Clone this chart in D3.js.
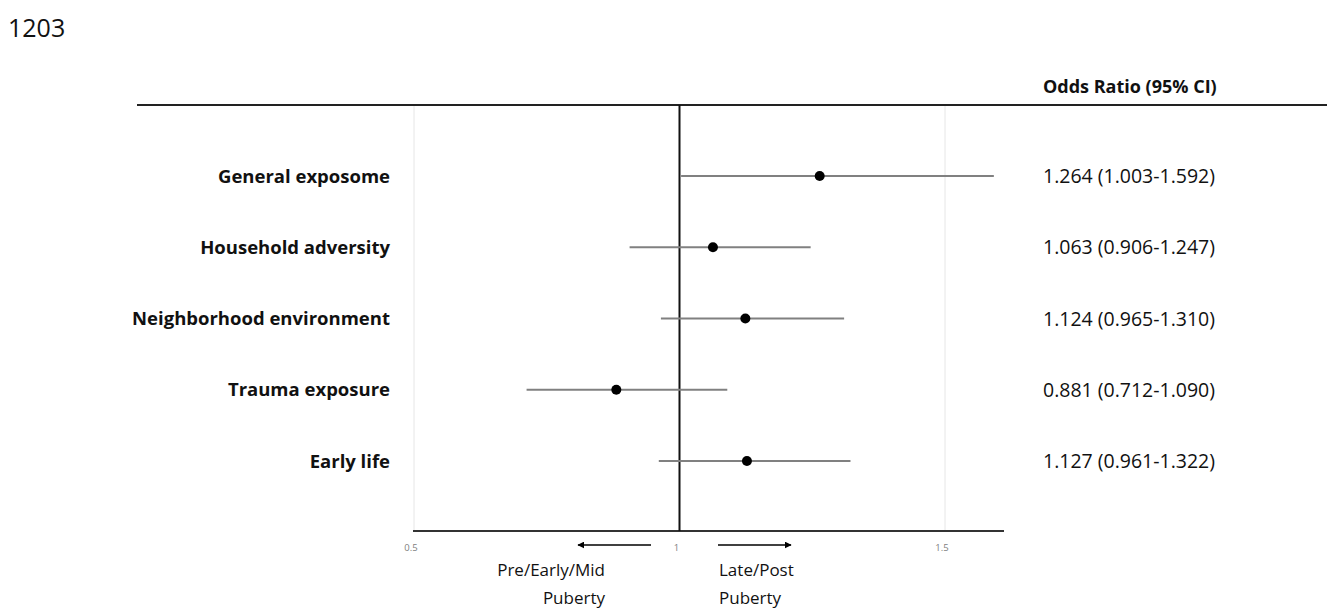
<!DOCTYPE html>
<html><head><meta charset="utf-8">
<script src="https://cdn.jsdelivr.net/npm/d3@7"></script>
<style>body{margin:0;background:#fff}svg{display:block}</style>
</head><body>
<svg id="c" width="1327" height="608"></svg>
<script>
const categories = ["General exposome","Household adversity","Neighborhood environment","Trauma exposure","Early life"];
const oddsRatio = [1.264,1.063,1.124,0.881,1.127];
const ciLow = [1.003,0.906,0.965,0.712,0.961];
const ciHigh = [1.592,1.247,1.310,1.090,1.322];
const tickValues = [0.5,1,1.5];
const tickLabels = ["0.5","1","1.5"];

const svg = d3.select("#c");
const font = "'Open Sans', 'Noto Sans', sans-serif";
const x = d3.scaleLinear().domain([0.5,1.5]).range([414,945]);
const y = d3.scalePoint().domain(categories).range([176,461]);

svg.append("text").attr("x",8).attr("y",37).attr("font-family",font).attr("font-size",25).attr("fill","#111").text("1203");

// gridlines
svg.selectAll("line.grid").data(tickValues).join("line").attr("class","grid")
  .attr("x1",d=>x(d)).attr("x2",d=>x(d)).attr("y1",106).attr("y2",531)
  .attr("stroke","#e6e6e6").attr("stroke-width",1);

// top line
svg.append("line").attr("x1",137).attr("x2",1327).attr("y1",105).attr("y2",105).attr("stroke","#222").attr("stroke-width",2);
// bottom axis
svg.append("line").attr("x1",413).attr("x2",1004).attr("y1",531).attr("y2",531).attr("stroke","#333").attr("stroke-width",2);
// reference line at 1
svg.append("line").attr("x1",x(1)).attr("x2",x(1)).attr("y1",105).attr("y2",531).attr("stroke","#111").attr("stroke-width",2);

// tick labels
svg.selectAll("text.tick").data(tickValues).join("text").attr("class","tick")
  .attr("x",d=>x(d)-3).attr("y",551).attr("text-anchor","middle")
  .attr("font-family",font).attr("font-size",9.5).attr("fill","#808080").text((d,i)=>tickLabels[i]);

// CI lines
svg.selectAll("line.ci").data(categories).join("line").attr("class","ci")
  .attr("x1",(d,i)=>x(ciLow[i])).attr("x2",(d,i)=>x(ciHigh[i]))
  .attr("y1",d=>y(d)).attr("y2",d=>y(d)).attr("stroke","#808080").attr("stroke-width",2);
// points
svg.selectAll("circle.pt").data(categories).join("circle").attr("class","pt")
  .attr("cx",(d,i)=>x(oddsRatio[i])).attr("cy",d=>y(d)).attr("r",5).attr("fill","#000");

// labels
svg.selectAll("text.lab").data(categories).join("text").attr("class","lab")
  .attr("x",390).attr("y",d=>y(d)+6.5).attr("text-anchor","end")
  .attr("font-family",font).attr("font-weight","bold").attr("font-size",18.5).attr("fill","#111").text(d=>d);

// header
svg.append("text").attr("x",1043).attr("y",93).attr("font-family",font).attr("font-weight","bold")
  .attr("font-size",18).attr("fill","#111").text("Odds Ratio (95% CI)");
// OR text
const f = v=>v.toFixed(3);
svg.selectAll("text.or").data(categories).join("text").attr("class","or")
  .attr("x",1043).attr("y",d=>y(d)+7).attr("font-family",font).attr("font-size",19.5).attr("fill","#111")
  .text((d,i)=>`${f(oddsRatio[i])} (${f(ciLow[i])}-${f(ciHigh[i])})`);

// arrows
const defs = svg.append("defs");
defs.append("marker").attr("id","ah").attr("viewBox","0 0 10 10").attr("refX",9).attr("refY",5)
  .attr("markerWidth",7).attr("markerHeight",7).attr("markerUnits","userSpaceOnUse").attr("orient","auto")
  .append("path").attr("d","M0,0 L10,5 L0,10 z").attr("fill","#000");
svg.append("line").attr("x1",651).attr("x2",578).attr("y1",545).attr("y2",545).attr("stroke","#000").attr("stroke-width",1.5).attr("marker-end","url(#ah)");
svg.append("line").attr("x1",718).attr("x2",791).attr("y1",545).attr("y2",545).attr("stroke","#000").attr("stroke-width",1.5).attr("marker-end","url(#ah)");

const ds = 17;
svg.append("text").attr("x",605).attr("y",576).attr("text-anchor","end").attr("font-family",font).attr("font-size",ds).attr("fill","#111").text("Pre/Early/Mid");
svg.append("text").attr("x",605).attr("y",604).attr("text-anchor","end").attr("font-family",font).attr("font-size",ds).attr("fill","#111").text("Puberty");
svg.append("text").attr("x",719).attr("y",576).attr("font-family",font).attr("font-size",ds).attr("fill","#111").text("Late/Post");
svg.append("text").attr("x",719).attr("y",604).attr("font-family",font).attr("font-size",ds).attr("fill","#111").text("Puberty");
</script>
</body></html>
